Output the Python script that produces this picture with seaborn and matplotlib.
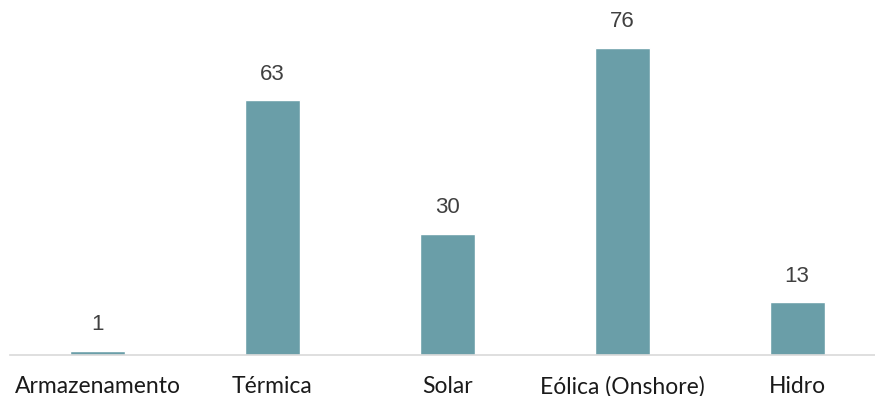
import matplotlib
matplotlib.use("Agg")
import matplotlib.pyplot as plt
import seaborn as sns
import pandas as pd

categories = ["Armazenamento", "Térmica", "Solar", "Eólica (Onshore)", "Hidro"]
values = [1, 63, 30, 76, 13]

df = pd.DataFrame({"categoria": categories, "valor": values})

sns.set_theme(style="white")
plt.rcParams["font.family"] = ["Lato", "DejaVu Sans"]

W, H = 875, 396
fig = plt.figure(figsize=(W / 100, H / 100), dpi=100)
ax = fig.add_axes([10 / W, 41 / H, 865 / W, 355 / H])

bar_color = "#6A9EA8"
sns.barplot(data=df, x="categoria", y="valor", color=bar_color, width=55 / 175,
            saturation=1, ax=ax)

px_per_unit = 4.04
ax.set_xlim(-0.5, 4 + 78 / 175)
ax.set_ylim(0, 355 / px_per_unit)

for i, v in enumerate(values):
    ax.text(i, v + 26 / px_per_unit, f"{v}", ha="center", va="center", fontsize=16,
            color="#404040", family=["Liberation Sans", "DejaVu Sans"])

ax.set_xlabel("")
ax.set_ylabel("")
ax.set_yticks([])
ax.tick_params(axis="x", length=0, pad=15, labelsize=16.5, colors="#1a1a1a")
for s in ["top", "right", "left"]:
    ax.spines[s].set_visible(False)
ax.spines["bottom"].set_color("#D9D9D9")
ax.spines["bottom"].set_linewidth(1.2)

fig.savefig("out.png", dpi=100)
